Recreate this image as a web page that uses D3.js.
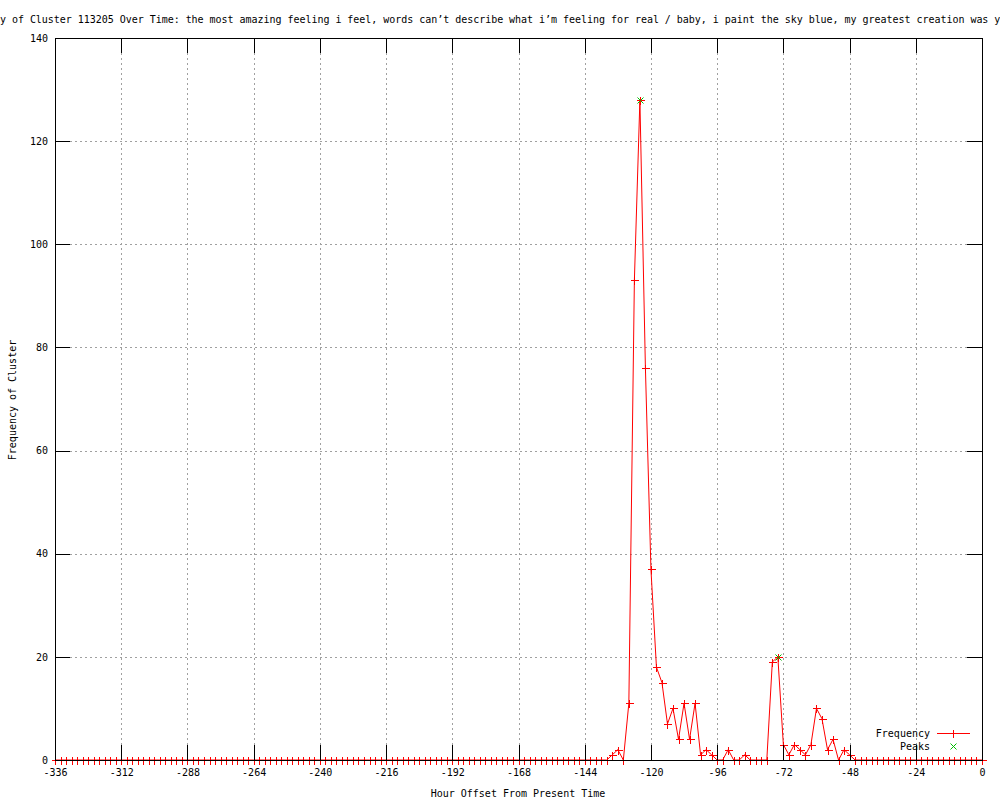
<!DOCTYPE html>
<html>
<head>
<meta charset="utf-8">
<script src="https://cdn.jsdelivr.net/npm/d3@7"></script>
<style>
  body { margin: 0; background: #fff; }
  svg text { font-family: "DejaVu Sans Mono", monospace; font-size: 10px; fill: #000; }
  .axis path { display: none; }
  .axis line { stroke: #000; shape-rendering: crispEdges; }
  .grid line { stroke: #a0a0a0; stroke-dasharray: 2,3; shape-rendering: crispEdges; }
</style>
</head>
<body>
<div id="chart"></div>
<script>
// hour offsets, one bin every 2 hours
const hours = d3.range(-336, 1, 2);

// frequency per bin, one row = 24 hours
const counts = [
  0, 0, 0, 0, 0, 0, 0, 0, 0, 0, 0, 0,        // -336
  0, 0, 0, 0, 0, 0, 0, 0, 0, 0, 0, 0,        // -312
  0, 0, 0, 0, 0, 0, 0, 0, 0, 0, 0, 0,        // -288
  0, 0, 0, 0, 0, 0, 0, 0, 0, 0, 0, 0,        // -264
  0, 0, 0, 0, 0, 0, 0, 0, 0, 0, 0, 0,        // -240
  0, 0, 0, 0, 0, 0, 0, 0, 0, 0, 0, 0,        // -216
  0, 0, 0, 0, 0, 0, 0, 0, 0, 0, 0, 0,        // -192
  0, 0, 0, 0, 0, 0, 0, 0, 0, 0, 0, 0,        // -168
  0, 0, 0, 0, 0, 1, 2, 0, 11, 93, 128, 76,   // -144
  37, 18, 15, 7, 10, 4, 11, 4, 11, 1, 2, 1,  // -120
  0, 0, 2, 0, 0, 1, 0, 0, 0, 0, 19, 20,      // -96
  3, 1, 3, 2, 1, 3, 10, 8, 2, 4, 0, 2,       // -72
  1, 0, 0, 0, 0, 0, 0, 0, 0, 0, 0, 0,        // -48
  0, 0, 0, 0, 0, 0, 0, 0, 0, 0, 0, 0,        // -24
  0                                          // 0
];

const peakHours = [-124, -74];
const peakValues = [128, 20];

const xTicks = d3.range(-336, 1, 24);
const yTicks = d3.range(0, 141, 20);

const title = "Frequency of Cluster 113205 Over Time: the most amazing feeling i feel, words can\u2019t describe what i\u2019m feeling for real / baby, i paint the sky blue, my greatest creation was you";

const W = 1000, H = 800;
const plotL = 55, plotR = 982, plotT = 38, plotB = 760;
const tickLen = 15;

const svg = d3.select('#chart').append('svg')
  .attr('width', W)
  .attr('height', H);

const x = d3.scaleLinear().domain([-336, 0]).range([plotL, plotR]);
const y = d3.scaleLinear().domain([0, 140]).range([plotB, plotT]);

// grid
const grid = svg.append('g').attr('class', 'grid');
grid.selectAll('.gx')
  .data(xTicks.slice(1, -1))
  .join('line')
  .attr('x1', d => Math.round(x(d)) + 0.5).attr('x2', d => Math.round(x(d)) + 0.5)
  .attr('y1', plotT + tickLen).attr('y2', plotB - tickLen);
grid.selectAll('.gy')
  .data(yTicks.slice(1, -1))
  .join('line')
  .attr('y1', d => Math.round(y(d)) + 0.5).attr('y2', d => Math.round(y(d)) + 0.5)
  .attr('x1', plotL + tickLen).attr('x2', plotR - tickLen);

const data = hours.map((h, i) => ({ h, v: counts[i] }));

// frequency line
svg.append('path')
  .datum(data)
  .attr('fill', 'none')
  .attr('stroke', '#ff0000')
  .attr('stroke-width', 1)
  .attr('d', d3.line().x(d => x(d.h)).y(d => y(d.v)));

// markers
const plus = (cx, cy, s) => `M${cx - s},${cy}H${cx + s}M${cx},${cy - s}V${cy + s}`;
const cross = (cx, cy, s) => `M${cx - s},${cy - s}L${cx + s},${cy + s}M${cx - s},${cy + s}L${cx + s},${cy - s}`;

svg.append('g')
  .selectAll('path')
  .data(data)
  .join('path')
  .attr('fill', 'none')
  .attr('stroke', '#ff0000')
  .attr('shape-rendering', 'crispEdges')
  .attr('d', d => plus(Math.round(x(d.h)) + 0.5, Math.round(y(d.v)) + 0.5, 4));

// peaks
svg.append('g')
  .selectAll('path')
  .data(peakHours.map((h, i) => ({ h, v: peakValues[i] })))
  .join('path')
  .attr('fill', 'none')
  .attr('stroke', '#00c000')
  .attr('d', d => cross(Math.round(x(d.h)) + 0.5, Math.round(y(d.v)) + 0.5, 3));

// axes with inward ticks, mirrored
svg.append('g').attr('class', 'axis')
  .attr('transform', `translate(0,${plotB})`)
  .call(d3.axisBottom(x).tickValues(xTicks).tickSizeInner(-tickLen).tickSizeOuter(0).tickFormat(d3.format('d')))
  .call(g => g.selectAll('text').attr('dy', '0.71em').attr('y', 9));

svg.append('g').attr('class', 'axis')
  .attr('transform', `translate(0,${plotT})`)
  .call(d3.axisTop(x).tickValues(xTicks).tickSizeInner(-tickLen).tickSizeOuter(0).tickFormat(''));

svg.append('g').attr('class', 'axis')
  .attr('transform', `translate(${plotL},0)`)
  .call(d3.axisLeft(y).tickValues(yTicks).tickSizeInner(-tickLen).tickSizeOuter(0).tickFormat(d3.format('d')))
  .call(g => g.selectAll('text').attr('x', -7));

svg.append('g').attr('class', 'axis')
  .attr('transform', `translate(${plotR},0)`)
  .call(d3.axisRight(y).tickValues(yTicks).tickSizeInner(-tickLen).tickSizeOuter(0).tickFormat(''));

// plain hyphen minus like the source
svg.selectAll('.axis text').each(function() {
  this.textContent = this.textContent.replace('\u2212', '-');
});

// border
svg.append('rect')
  .attr('x', plotL + 0.5).attr('y', plotT + 0.5)
  .attr('width', plotR - plotL).attr('height', plotB - plotT)
  .attr('fill', 'none').attr('stroke', '#000')
  .attr('shape-rendering', 'crispEdges');

// title (wider than the page, as in the source)
svg.append('text')
  .attr('x', -48).attr('y', 23)
  .style('letter-spacing', '-0.03px')
  .text(title);

// axis labels
svg.append('text')
  .attr('x', 518).attr('y', 797)
  .attr('text-anchor', 'middle')
  .text('Hour Offset From Present Time');

svg.append('text')
  .attr('transform', 'translate(16,400) rotate(-90)')
  .attr('text-anchor', 'middle')
  .text('Frequency of Cluster');

// legend
const legend = svg.append('g');
legend.append('text').attr('x', 930).attr('y', 737).attr('text-anchor', 'end').text('Frequency');
legend.append('text').attr('x', 930).attr('y', 750).attr('text-anchor', 'end').text('Peaks');
legend.append('line')
  .attr('x1', 937).attr('x2', 970).attr('y1', 733.5).attr('y2', 733.5)
  .attr('stroke', '#ff0000');
legend.append('path').attr('fill', 'none').attr('stroke', '#ff0000').attr('shape-rendering', 'crispEdges')
  .attr('d', plus(953.5, 733.5, 4));
legend.append('path').attr('fill', 'none').attr('stroke', '#00c000')
  .attr('d', cross(953.5, 746.5, 3));
</script>
</body>
</html>
